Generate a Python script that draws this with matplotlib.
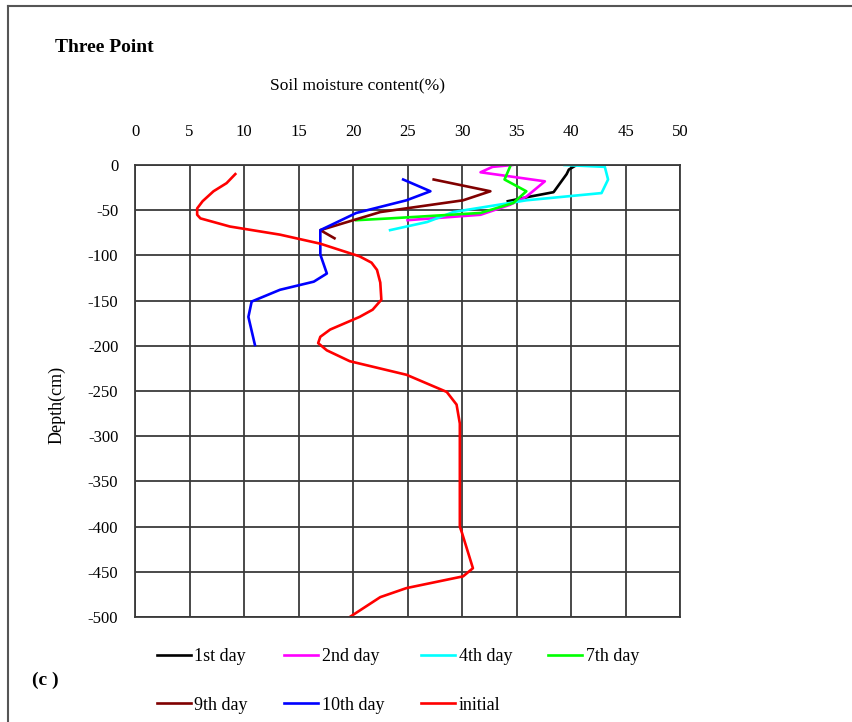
import numpy as np
import matplotlib
matplotlib.use("Agg")
import matplotlib.pyplot as plt
from matplotlib.lines import Line2D

plt.rcParams["font.family"] = "Liberation Serif"
plt.rcParams["axes.unicode_minus"] = False

# soil moisture (%) vs depth (cm)
d1 = [0, -5, -10, -20, -30, -35, -40]
m1 = [40.5, 39.8, 39.6, 39.0, 38.4, 36.2, 34.2]

d2 = [0, -2, -8, -18, -35, -44, -55, -61]
m2 = [34.6, 32.8, 31.7, 37.6, 35.9, 34.4, 31.7, 25.0]

d4 = [0, -2, -16, -31, -39, -52, -63, -72]
m4 = [39.4, 43.1, 43.4, 42.8, 35.9, 29.2, 26.8, 23.4]

d7 = [-2, -16, -29, -42, -53, -59, -61]
m7 = [34.4, 33.9, 35.9, 34.7, 31.7, 23.4, 20.3]

d9 = [-16, -29, -39, -52, -72, -81]
m9 = [27.4, 32.6, 30.1, 22.5, 17.0, 18.3]

d10 = [-16, -29, -39, -53, -72, -99, -120, -129, -138, -151, -168, -199]
m10 = [24.6, 27.1, 24.9, 20.3, 17.0, 17.0, 17.6, 16.4, 13.3, 10.7, 10.4, 11.0]

d0 = [-10, -20, -29, -40, -48, -55, -59, -68, -77, -87, -101, -108, -116, -130,
      -149, -160, -168, -182, -190, -197, -205, -217, -232, -251, -265, -286,
      -330, -400, -407, -446, -455, -468, -478, -500]
m0 = [9.2, 8.4, 7.2, 6.2, 5.7, 5.7, 6.0, 8.7, 13.3, 17.0, 20.6, 21.7, 22.2, 22.5,
      22.6, 21.8, 20.6, 17.9, 17.0, 16.8, 17.6, 19.7, 24.9, 28.6, 29.5, 29.8,
      29.8, 29.8, 30.0, 31.0, 30.1, 24.9, 22.5, 19.7]

fig = plt.figure(figsize=(8.53, 7.22), dpi=100)
ax = fig.add_axes([0.1583, 0.1454, 0.6389, 0.626])

gc = "#3a3a3a"
lw = 1.9
ax.plot(m1, d1, color="black", lw=lw, label="1st day")
ax.plot(m2, d2, color="#ff00ff", lw=lw, label="2nd day")
ax.plot(m4, d4, color="#00ffff", lw=lw, label="4th day")
ax.plot(m7, d7, color="#00ff00", lw=lw, label="7th day")
ax.plot(m9, d9, color="#800000", lw=lw, label="9th day")
ax.plot(m10, d10, color="#0000ff", lw=lw, label="10th day")
ax.plot(m0, d0, color="#ff0000", lw=lw, label="initial")

ax.set_xlim(0, 50)
ax.set_ylim(-500, 0)
ax.set_xticks(np.arange(0, 51, 5))
ax.set_yticks(np.arange(-500, 1, 50))
ax.xaxis.tick_top()
ax.tick_params(length=0, labelsize=12)
ax.tick_params(axis="x", pad=18)
ax.tick_params(axis="y", pad=12)
ax.grid(True, color=gc, lw=1.3)
ax.set_axisbelow(True)
for s in ax.spines.values():
    s.set_color(gc)
    s.set_linewidth(1.3)

ax.set_ylabel("Depth(cm)", fontsize=13)
ax.yaxis.set_label_coords(-0.128, 0.47)

fig.text(55 / 853, 1 - 48 / 722, "Three Point", fontsize=14, fontweight="bold", va="center")
fig.text(358 / 853, 1 - 85 / 722, "Soil moisture content(%)", fontsize=12.5, ha="center", va="center")
fig.text(32 / 853, 1 - 680 / 722, "(c )", fontsize=14, fontweight="bold", va="center")

# frame around the panel
fig.add_artist(Line2D([8 / 853, 8 / 853], [0, 1 - 6 / 722], color="#555555", lw=1.5))
fig.add_artist(Line2D([8 / 853, 1], [1 - 6 / 722, 1 - 6 / 722], color="#555555", lw=1.5))

h, l = ax.get_legend_handles_labels()
order = [0, 4, 1, 5, 2, 6, 3]
fig.legend([h[i] for i in order], [l[i] for i in order], ncol=4, frameon=False,
           loc="center", bbox_to_anchor=(398 / 853, 1 - 681 / 722), fontsize=13,
           handlelength=1.9, handletextpad=0.2, columnspacing=2.0, labelspacing=1.75)

fig.savefig("out.png", dpi=100)
